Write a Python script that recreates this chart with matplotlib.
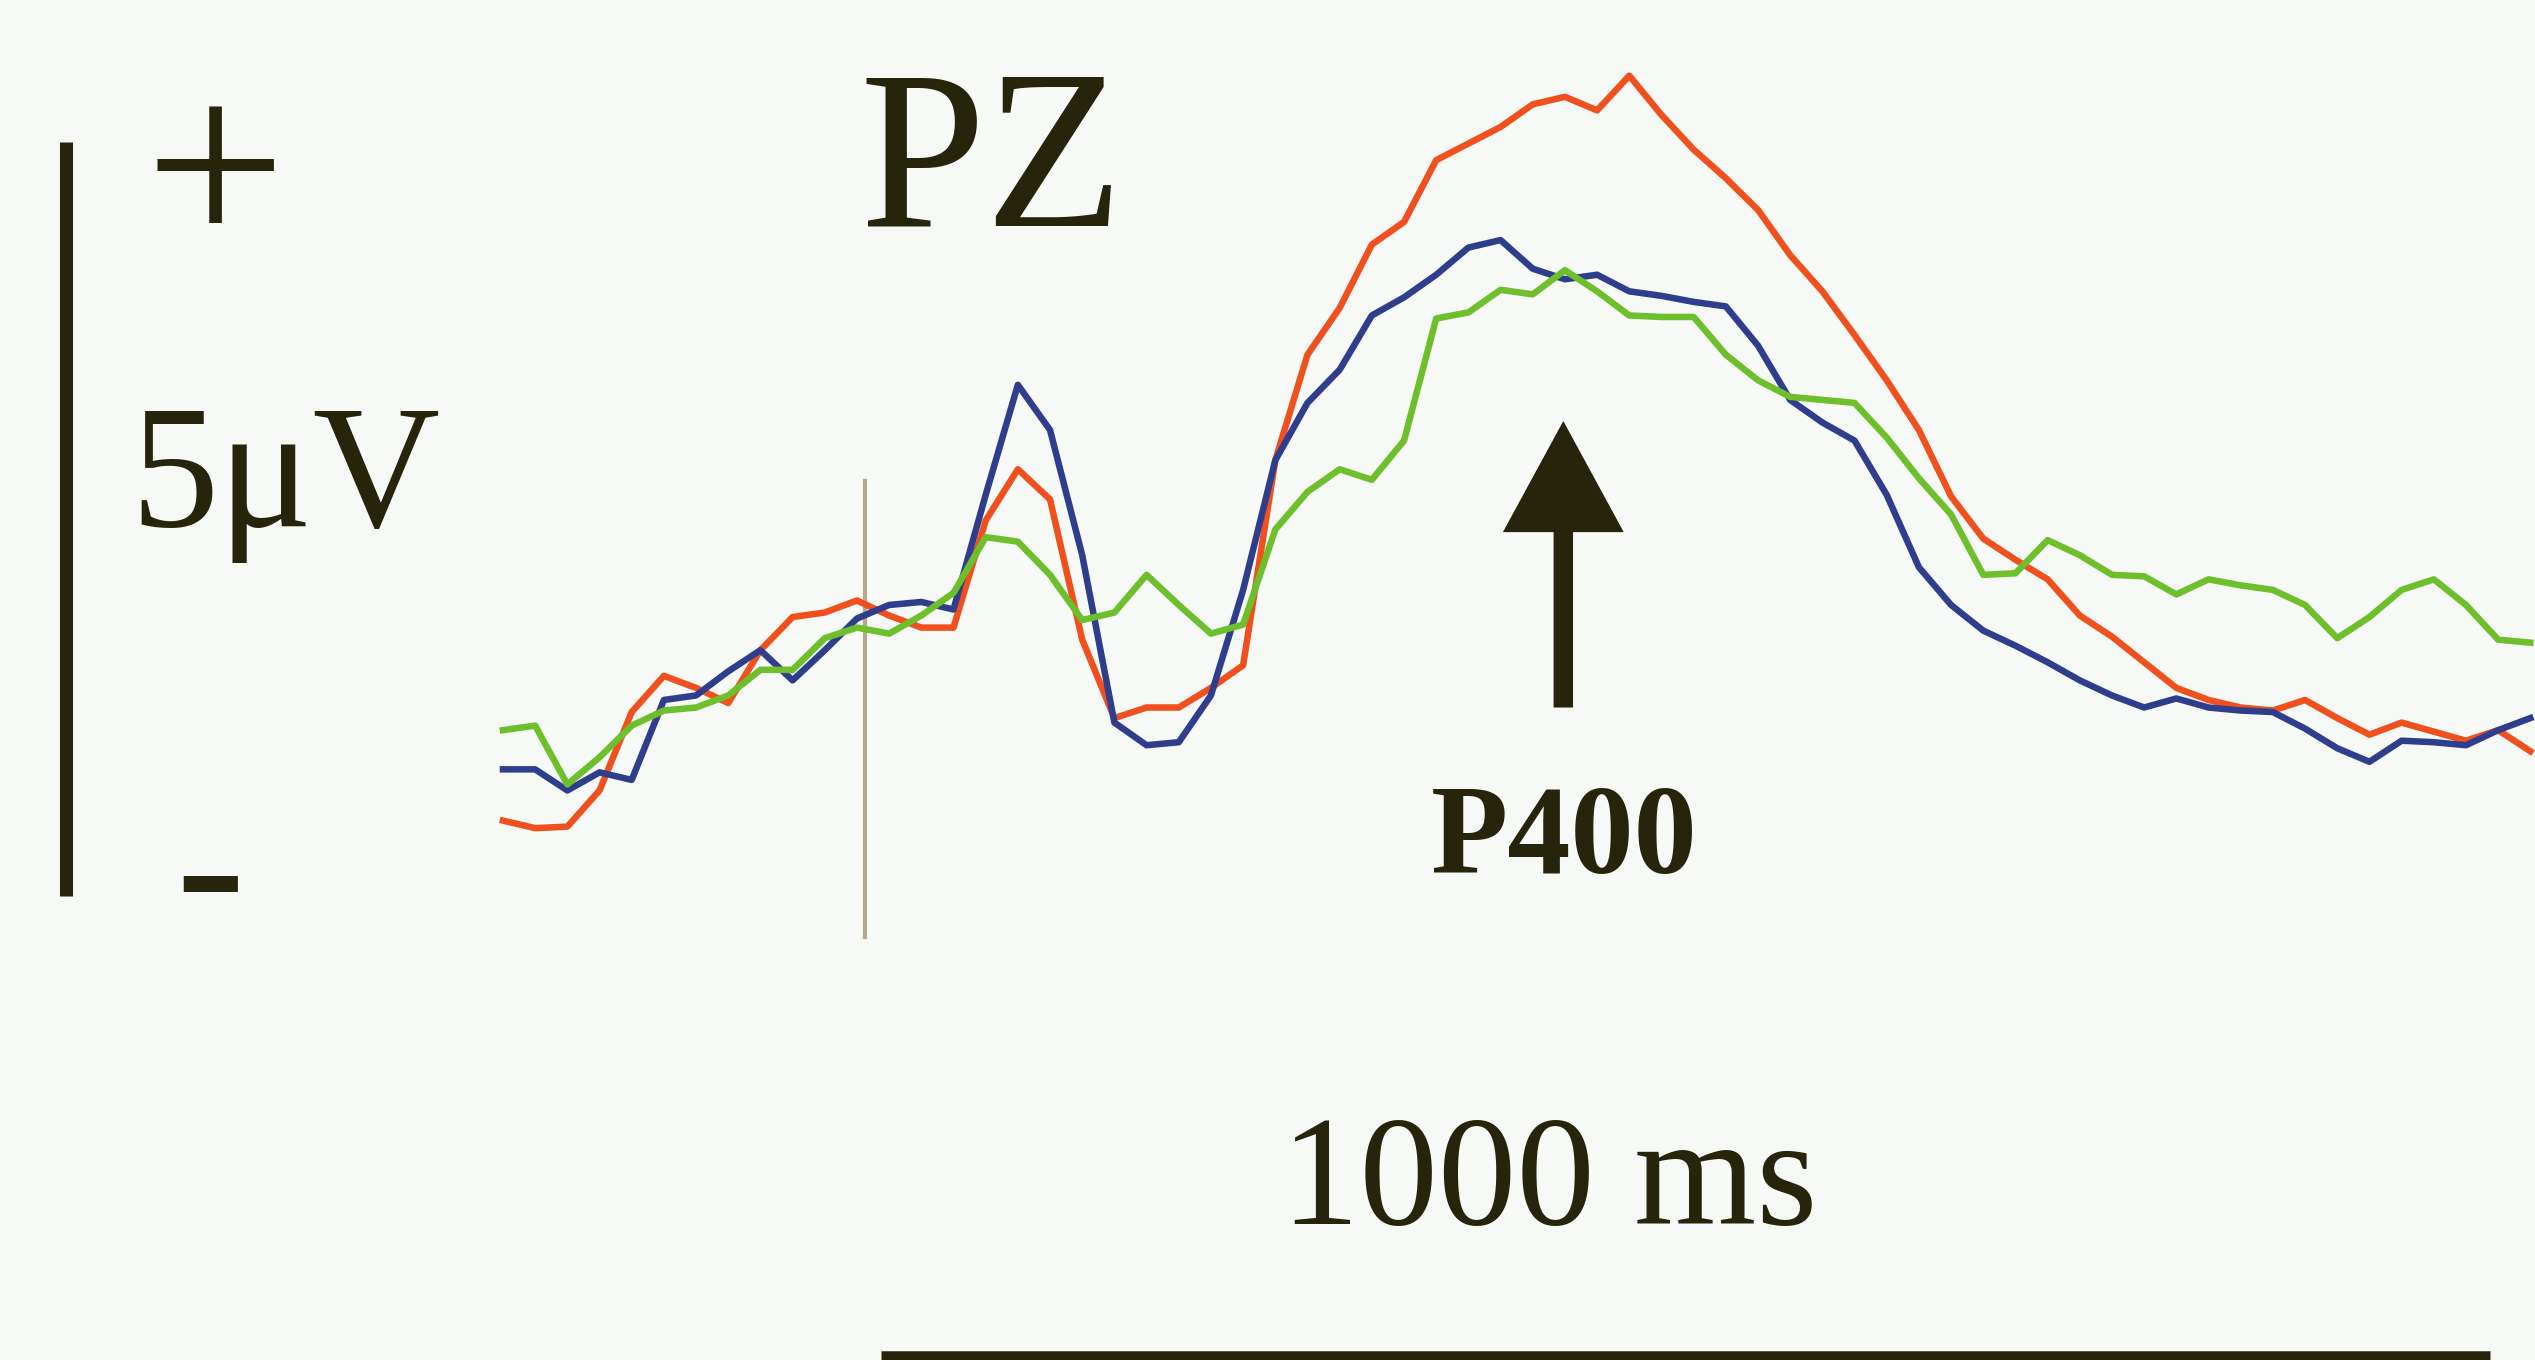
import matplotlib
matplotlib.use('Agg')
import matplotlib.pyplot as plt
from matplotlib.patches import FancyArrowPatch

# ERP grand averages at PZ (µV), sampled every 20 ms from -225 ms
times_ms = list(range(-225, 1036, 20))

green_uv = [-0.20, -0.17, -0.56, -0.38, -0.17, -0.07, -0.05, 0.03, 0.20, 0.20,
            0.41, 0.48, 0.44, 0.56, 0.71, 1.08, 1.05, 0.83, 0.53, 0.58,
            0.83, 0.63, 0.44, 0.50, 1.13, 1.38, 1.53, 1.46, 1.72, 2.53,
            2.57, 2.72, 2.69, 2.85, 2.71, 2.55, 2.54, 2.54, 2.29, 2.12,
            2.01, 1.99, 1.97, 1.74, 1.47, 1.23, 0.83, 0.84, 1.06, 0.96,
            0.83, 0.82, 0.70, 0.80, 0.76, 0.73, 0.63, 0.41, 0.55, 0.73,
            0.80, 0.63, 0.40, 0.38]

blue_uv = [-0.46, -0.46, -0.60, -0.48, -0.53, 0.00, 0.03, 0.19, 0.33, 0.13,
           0.33, 0.54, 0.63, 0.65, 0.60, 1.36, 2.09, 1.79, 0.96, -0.15,
           -0.30, -0.28, 0.03, 0.73, 1.59, 1.97, 2.19, 2.55, 2.67, 2.82,
           3.00, 3.05, 2.86, 2.79, 2.82, 2.71, 2.68, 2.64, 2.61, 2.35,
           1.99, 1.84, 1.72, 1.36, 0.88, 0.63, 0.46, 0.36, 0.25, 0.13,
           0.03, -0.05, 0.01, -0.05, -0.07, -0.08, -0.19, -0.32, -0.41, -0.27,
           -0.28, -0.30, -0.20, -0.12]

red_uv = [-0.80, -0.85, -0.84, -0.60, -0.08, 0.16, 0.08, -0.02, 0.33, 0.55,
          0.58, 0.66, 0.56, 0.48, 0.48, 1.19, 1.53, 1.33, 0.40, -0.12,
          -0.05, -0.05, 0.08, 0.23, 1.59, 2.29, 2.60, 3.02, 3.17, 3.58,
          3.69, 3.80, 3.95, 4.00, 3.91, 4.14, 3.88, 3.65, 3.46, 3.25,
          2.95, 2.71, 2.42, 2.12, 1.79, 1.35, 1.07, 0.93, 0.80, 0.56,
          0.42, 0.25, 0.08, 0.00, -0.05, -0.07, 0.00, -0.12, -0.23, -0.15,
          -0.21, -0.27, -0.20, -0.34]

# calibration marks
scale_uv = 5.0          # vertical bar
scale_bottom = -1.30
time_bar_ms = 1000      # horizontal bar
time_bar_start = 10
p400_ms = 434

INK = '#26240a'
BG = '#f7f9f7'
SERIF = ['Liberation Serif', 'DejaVu Serif']

fig = plt.figure(figsize=(25.35, 13.6), dpi=100, facecolor=BG)
ax = fig.add_axes([0, 0, 1, 1])
ax.set_facecolor(BG)
ax.set_xlim(-537.6, 1037.9)
ax.set_ylim(-4.377, 4.642)
ax.axis('off')

# traces
ax.plot(times_ms, red_uv, color='#f0501e', lw=4.7, zorder=3)
ax.plot(times_ms, blue_uv, color='#2f3e8c', lw=4.7, zorder=4)
ax.plot(times_ms, green_uv, color='#6dbf2c', lw=4.7, zorder=5)

# stimulus onset
ax.plot([0, 0], [-1.57, 1.45], color='#b5a98c', lw=3, zorder=2)

# 5 µV scale bar
ax.plot([-496.6, -496.6], [scale_bottom, scale_bottom + scale_uv], color=INK,
        lw=9.4, solid_capstyle='butt')
# 1000 ms bar
ax.plot([time_bar_start, time_bar_start + time_bar_ms], [-4.36, -4.36], color=INK,
        lw=9, solid_capstyle='butt')

# P400 arrow
arr = FancyArrowPatch((p400_ms, -0.05), (p400_ms, 1.85),
                      arrowstyle='simple,head_length=80,head_width=87,tail_width=14',
                      mutation_scale=1, shrinkA=0, shrinkB=0, color=INK, lw=0, zorder=6)
ax.add_patch(arr)

tkw = dict(transform=fig.transFigure, color=INK, family=SERIF)
fig.text(0.0848, 0.818, '+', fontsize=180, ha='center', va='baseline', **tkw)
fig.text(0.1125, 0.613, '5\u03bcV', fontsize=127, ha='center', va='baseline', **tkw)
fig.text(0.0828, 0.314, '-', fontsize=150, ha='center', va='baseline', **tkw)
fig.text(0.391, 0.834, 'PZ', fontsize=163, ha='center', va='baseline', **tkw)
fig.text(0.617, 0.358, 'P400', fontsize=91, fontweight='bold', ha='center', va='baseline', **tkw)
fig.text(0.611, 0.100, '1000 ms', fontsize=113, ha='center', va='baseline', **tkw)

fig.savefig('out.png', dpi=100, facecolor=BG)
